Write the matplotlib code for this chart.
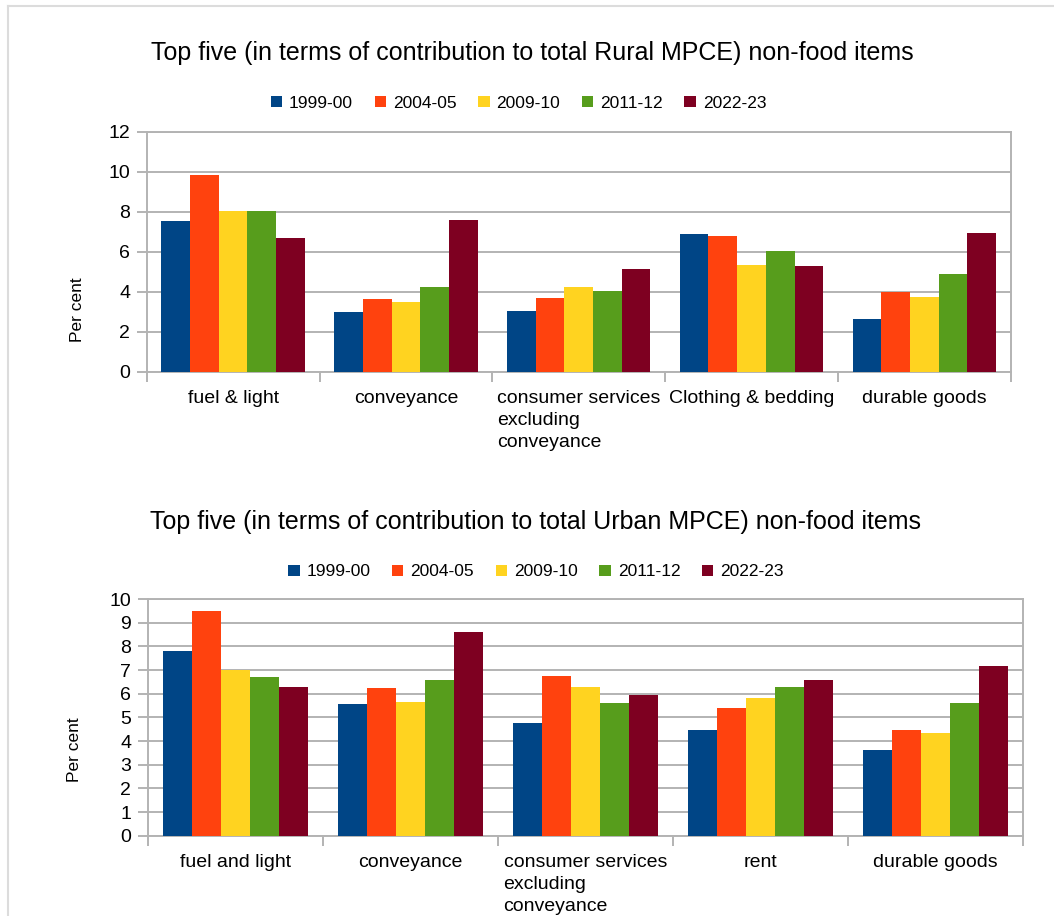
import matplotlib
matplotlib.use("Agg")
import matplotlib.pyplot as plt
import numpy as np
from matplotlib.lines import Line2D
from matplotlib.patches import Patch

plt.rcParams['font.family'] = ['Liberation Sans', 'DejaVu Sans']

years = ["1999-00", "2004-05", "2009-10", "2011-12", "2022-23"]
colors = ["#004586", "#ff420e", "#ffd320", "#579d1c", "#7e0021"]

rural_items = ["fuel & light", "conveyance",
               "consumer services\nexcluding\nconveyance",
               "Clothing & bedding", "durable goods"]
rural_1999 = [7.55, 2.97, 3.03, 6.87, 2.65]
rural_2004 = [9.85, 3.63, 3.70, 6.77, 4.00]
rural_2009 = [8.05, 3.47, 4.23, 5.35, 3.73]
rural_2011 = [8.03, 4.23, 4.03, 6.02, 4.87]
rural_2022 = [6.70, 7.60, 5.12, 5.28, 6.93]

urban_items = ["fuel and light", "conveyance",
               "consumer services\nexcluding\nconveyance",
               "rent", "durable goods"]
urban_1999 = [7.79, 5.55, 4.76, 4.48, 3.63]
urban_2004 = [9.51, 6.24, 6.73, 5.41, 4.48]
urban_2009 = [7.00, 5.65, 6.28, 5.83, 4.34]
urban_2011 = [6.72, 6.56, 5.62, 6.28, 5.62]
urban_2022 = [6.30, 8.62, 5.96, 6.59, 7.18]

rural_series = [rural_1999, rural_2004, rural_2009, rural_2011, rural_2022]
urban_series = [urban_1999, urban_2004, urban_2009, urban_2011, urban_2022]

W, H = 1054, 916
fig = plt.figure(figsize=(W / 100, H / 100), dpi=100)

grid_col = "#b3b3b3"


def px_rect(left, top, right, bottom):
    return [left / W, 1 - bottom / H, (right - left) / W, (bottom - top) / H]


def draw_chart(ax, items, series, ymax, ylabel_xy):
    n = len(items)
    x = np.arange(n)
    bw = 0.166
    for i, (vals, col) in enumerate(zip(series, colors)):
        ax.bar(x + (i - 2) * bw, vals, width=bw, color=col, linewidth=0,
               zorder=3)
    ax.set_xlim(-0.5, n - 0.5)
    ax.set_ylim(0, ymax)
    ax.set_yticks(np.arange(0, ymax + 1, 2 if ymax == 12 else 1))
    ax.yaxis.grid(True, color=grid_col, linewidth=1.4, zorder=0)
    for s in ax.spines.values():
        s.set_color(grid_col)
        s.set_linewidth(1.4)
    ax.set_xticks(x)
    ax.set_xticklabels(items, fontsize=14, multialignment='left',
                       va='top', linespacing=1.4)
    ax.set_xticks(np.arange(-0.5, n, 1.0), minor=True)
    ax.tick_params(axis='x', which='major', length=0, pad=13)
    ax.tick_params(axis='x', which='minor', length=7, width=1.4,
                   color=grid_col)
    ax.tick_params(axis='y', length=7, width=1.4, color=grid_col,
                   labelsize=14, pad=5)
    ax.set_ylabel("Per cent", fontsize=12.5)
    ax.yaxis.set_label_coords(*ylabel_xy)


ax1 = fig.add_axes(px_rect(146.7, 131.7, 1010.7, 371.7))
draw_chart(ax1, rural_items, rural_series, 12, (-0.0714, 0.257))

ax2 = fig.add_axes(px_rect(147.7, 599, 1022.7, 835.7))
draw_chart(ax2, urban_items, urban_series, 10, (-0.075, 0.362))

fig.text(532.5 / W, 1 - 53 / H,
         "Top five (in terms of contribution to total Rural MPCE) non-food items",
         fontsize=18, ha='center', va='center')
fig.text(536 / W, 1 - 522 / H,
         "Top five (in terms of contribution to total Urban MPCE) non-food items",
         fontsize=18, ha='center', va='center')

handles = [Patch(facecolor=c, edgecolor='none') for c in colors]
for cx, cy in [(518.5, 103), (536, 572)]:
    fig.legend(handles, years, loc='center', bbox_to_anchor=(cx / W, 1 - cy / H),
               ncol=5, frameon=False, fontsize=12.5, handlelength=0.65,
               handleheight=0.65, handletextpad=0.4, columnspacing=1.25,
               borderaxespad=0)

# outer frame edges
fig.add_artist(Line2D([8 / W, 1], [1 - 6 / H, 1 - 6 / H], color="#dcdcdc",
                      linewidth=1.5, transform=fig.transFigure))
fig.add_artist(Line2D([8 / W, 8 / W], [0, 1 - 6 / H], color="#dcdcdc",
                      linewidth=1.5, transform=fig.transFigure))

fig.savefig("out.png", dpi=100)
